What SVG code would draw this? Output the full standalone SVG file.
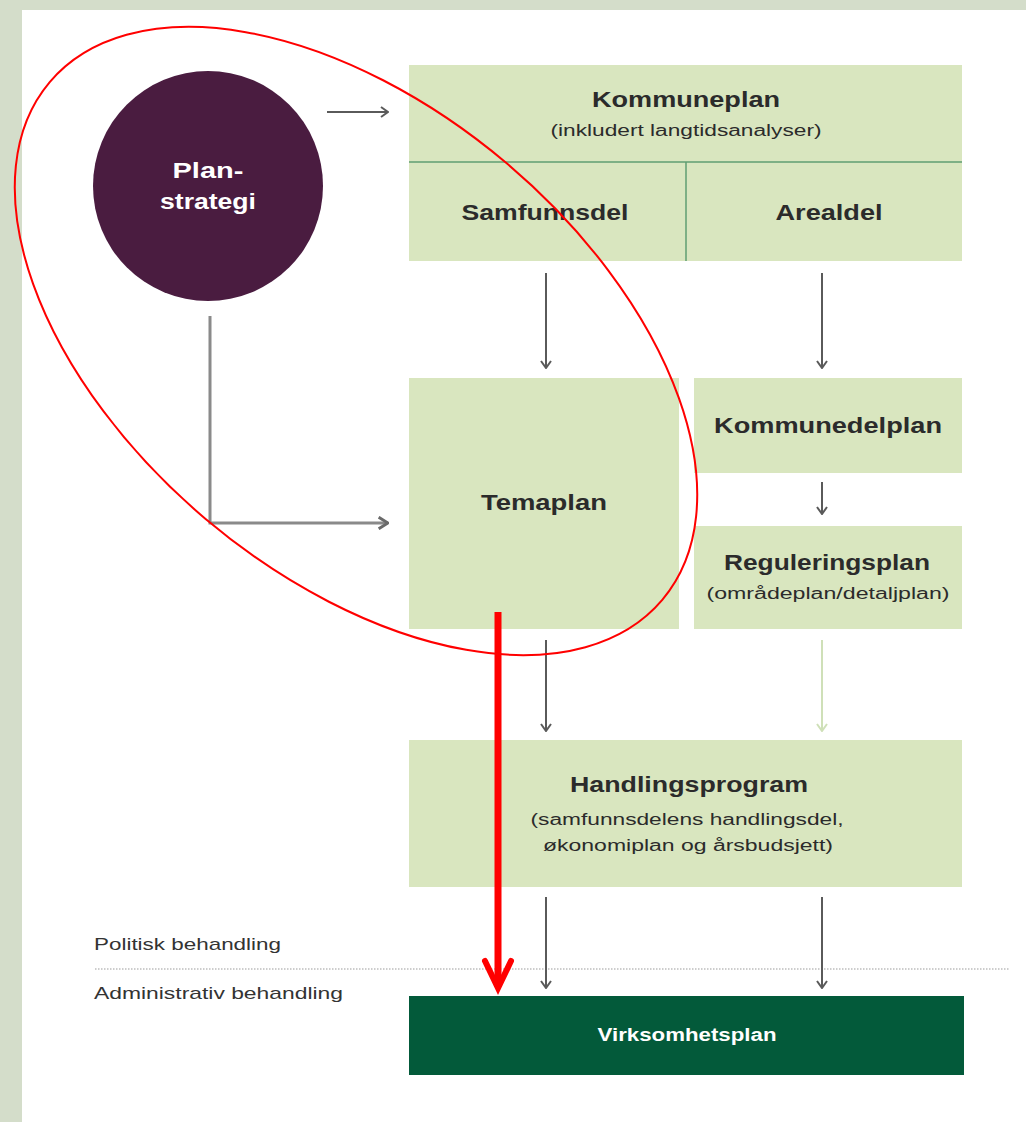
<svg xmlns="http://www.w3.org/2000/svg" width="1026" height="1122" viewBox="0 0 1026 1122">
<style>
.box{fill:#d9e6bf}
.t{font-family:"Liberation Sans",Arial,sans-serif;fill:#2b2b2b;text-anchor:middle}
.b{font-weight:bold;font-size:22px}
.s{font-size:16px}
.side{font-family:"Liberation Sans",Arial,sans-serif;fill:#333;font-size:17px}
.ar{fill:none;stroke:#5a5a5a;stroke-width:2}
</style>
<defs>
<marker id="head" viewBox="0 0 12 12" refX="11" refY="6" markerWidth="12" markerHeight="12" markerUnits="userSpaceOnUse" orient="auto">
<path d="M4,1 L11,6 L4,11" fill="none" stroke="#5a5a5a" stroke-width="2"/>
</marker>
<marker id="headg" viewBox="0 0 12 12" refX="11" refY="6" markerWidth="12" markerHeight="12" markerUnits="userSpaceOnUse" orient="auto">
<path d="M4,1 L11,6 L4,11" fill="none" stroke="#cfe0b8" stroke-width="2"/>
</marker>
<marker id="headw" viewBox="0 0 12 12" refX="11" refY="6" markerWidth="14" markerHeight="14" markerUnits="userSpaceOnUse" orient="auto">
<path d="M3,1 L11,6 L3,11" fill="none" stroke="#6a6a6a" stroke-width="2.5"/>
</marker>
</defs>
<rect x="0" y="0" width="1026" height="1122" fill="#d4ddca"/>
<rect x="22" y="10" width="1004" height="1112" fill="#ffffff"/>

<g id="planstrategi">
<circle cx="208" cy="186" r="115" fill="#4a1c40"/>
<text class="t b" x="208" y="178" style="fill:#fff" textLength="71" lengthAdjust="spacingAndGlyphs">Plan-</text>
<text class="t b" x="208" y="209" style="fill:#fff" textLength="96" lengthAdjust="spacingAndGlyphs">strategi</text>
</g>

<g id="kommuneplan">
<rect class="box" x="409" y="65" width="553" height="196"/>
<line x1="409" y1="162" x2="962" y2="162" stroke="#5f9e72" stroke-width="1.5"/>
<line x1="686" y1="162" x2="686" y2="261" stroke="#5f9e72" stroke-width="1.5"/>
<text class="t b" x="686" y="107" textLength="188" lengthAdjust="spacingAndGlyphs">Kommuneplan</text>
<text class="t s" x="686" y="136" textLength="271" lengthAdjust="spacingAndGlyphs">(inkludert langtidsanalyser)</text>
</g>
<g id="samfunnsdel">
<text class="t b" x="545" y="220" textLength="167" lengthAdjust="spacingAndGlyphs">Samfunnsdel</text>
</g>
<g id="arealdel">
<text class="t b" x="829" y="220" textLength="107" lengthAdjust="spacingAndGlyphs">Arealdel</text>
</g>

<g id="temaplan">
<rect class="box" x="409" y="378" width="270" height="251"/>
<text class="t b" x="544" y="510" textLength="126" lengthAdjust="spacingAndGlyphs">Temaplan</text>
</g>

<g id="kommunedelplan">
<rect class="box" x="694" y="378" width="268" height="95"/>
<text class="t b" x="828" y="433" textLength="228" lengthAdjust="spacingAndGlyphs">Kommunedelplan</text>
</g>

<g id="reguleringsplan">
<rect class="box" x="694" y="526" width="268" height="103"/>
<text class="t b" x="827" y="570" textLength="206" lengthAdjust="spacingAndGlyphs">Reguleringsplan</text>
<text class="t s" x="828" y="599" textLength="243" lengthAdjust="spacingAndGlyphs">(områdeplan/detaljplan)</text>
</g>

<g id="handlingsprogram">
<rect class="box" x="409" y="740" width="553" height="147"/>
<text class="t b" x="689" y="792" textLength="238" lengthAdjust="spacingAndGlyphs">Handlingsprogram</text>
<text class="t s" x="687" y="825" textLength="313" lengthAdjust="spacingAndGlyphs">(samfunnsdelens handlingsdel,</text>
<text class="t s" x="688" y="851" textLength="290" lengthAdjust="spacingAndGlyphs">økonomiplan og årsbudsjett)</text>
</g>

<g id="virksomhetsplan">
<rect x="409" y="996" width="555" height="79" fill="#035a3a"/>
<text class="t" x="687" y="1041" style="fill:#fff;font-size:18px;font-weight:bold" textLength="179" lengthAdjust="spacingAndGlyphs">Virksomhetsplan</text>
</g>

<g id="labels">
<text class="side" x="94" y="950" textLength="187" lengthAdjust="spacingAndGlyphs">Politisk behandling</text>
<line x1="95" y1="969" x2="1010" y2="969" stroke="#bdbdbd" stroke-width="1.5" stroke-dasharray="1.5,1.5"/>
<text class="side" x="94" y="999" textLength="249" lengthAdjust="spacingAndGlyphs">Administrativ behandling</text>
</g>

<g id="connectors">
<path class="ar" d="M327,112 L388,112" marker-end="url(#head)"/>
<path d="M210,316 L210,523 L388,523" fill="none" stroke="#8a8a8a" stroke-width="3" marker-end="url(#headw)"/>
<path class="ar" d="M546,273 L546,368" marker-end="url(#head)"/>
<path class="ar" d="M822,273 L822,368" marker-end="url(#head)"/>
<path class="ar" d="M822,482 L822,514" marker-end="url(#head)"/>
<path class="ar" d="M546,640 L546,731" marker-end="url(#head)"/>
<path d="M822,640 L822,731" fill="none" stroke="#cfe0b8" stroke-width="2" marker-end="url(#headg)"/>
<path class="ar" d="M546,897 L546,988" marker-end="url(#head)"/>
<path class="ar" d="M822,897 L822,988" marker-end="url(#head)"/>
</g>

<g id="annotation">
<ellipse cx="356" cy="341" rx="401" ry="233" transform="rotate(40.2 356 341)" fill="none" stroke="#ff0000" stroke-width="2"/>
<line x1="498" y1="612" x2="498" y2="986" stroke="#ff0000" stroke-width="7"/>
<path d="M485,961 L498,988 L511,961" fill="none" stroke="#ff0000" stroke-width="6" stroke-linecap="round" stroke-linejoin="miter"/>
</g>
</svg>
